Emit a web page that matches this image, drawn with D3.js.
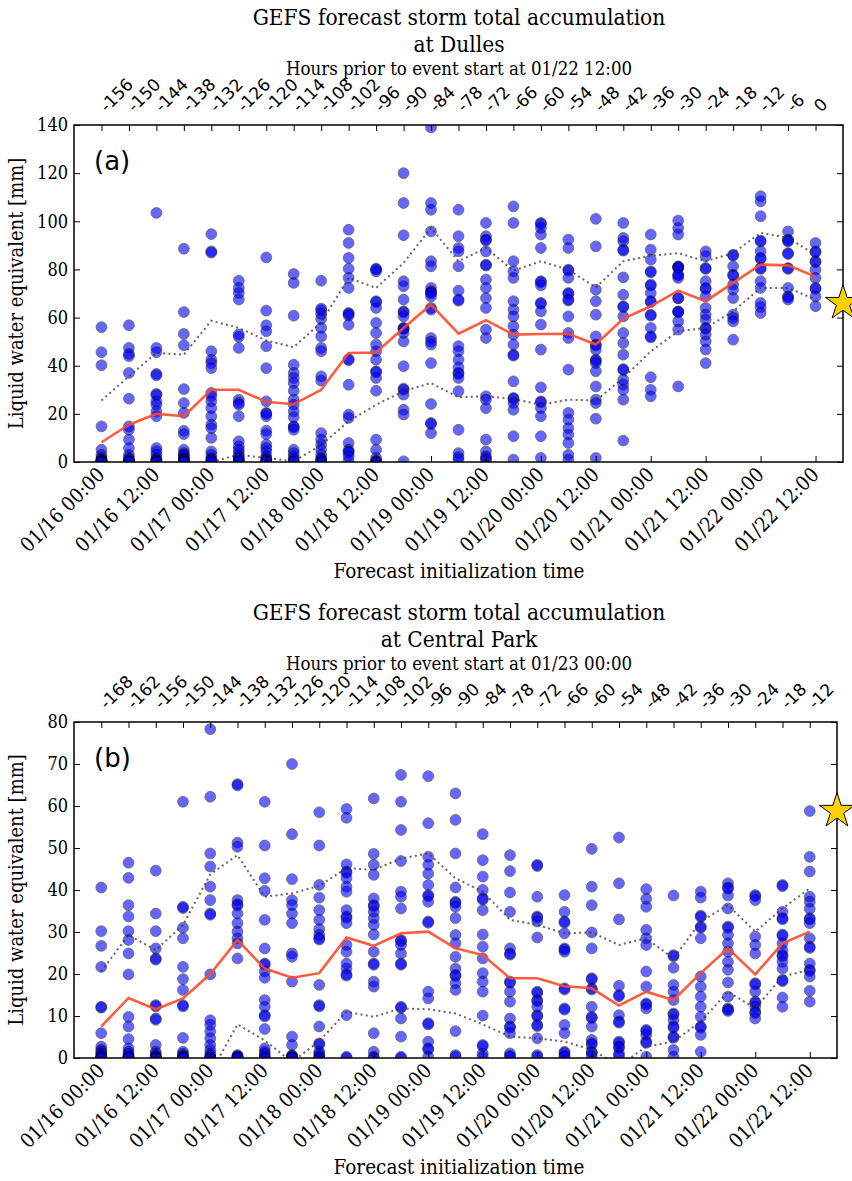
<!DOCTYPE html>
<html>
<head>
<meta charset="utf-8">
<script src="https://d3js.org/d3.v7.min.js"></script>
<style>
  body { margin: 0; background: #fff; }
  .serif { font-family: "DejaVu Serif", serif; font-stretch: condensed; }
  .sans { font-family: "DejaVu Sans", sans-serif; }
</style>
</head>
<body>
<div id="chart"></div>
<script>
// forecast init times, hours after 01/16 00:00 (every 6 h)
const initHours = d3.range(0, 157, 6);
const dateLabels = ['01/16 00:00', '01/16 12:00', '01/17 00:00', '01/17 12:00', '01/18 00:00',
  '01/18 12:00', '01/19 00:00', '01/19 12:00', '01/20 00:00', '01/20 12:00', '01/21 00:00',
  '01/21 12:00', '01/22 00:00', '01/22 12:00'];
const leadA = [-156, -150, -144, -138, -132, -126, -120, -114, -108, -102, -96, -90, -84, -78,
  -72, -66, -60, -54, -48, -42, -36, -30, -24, -18, -12, -6, 0];
const leadB = [-168, -162, -156, -150, -144, -138, -132, -126, -120, -114, -108, -102, -96, -90,
  -84, -78, -72, -66, -60, -54, -48, -42, -36, -30, -24, -18, -12];

// Dulles: ensemble members per init time [mm]
const membersA = [
  [56, 45.6, 40.2, 14.8, 5.1, 3, 1.7, 1, 0.8, 0.5, 0.3, 0.2, 0, 0, 0, 0, 0, 0, 0, 0, 0],
  [56.8, 47.4, 44.9, 44, 37, 26.3, 14.8, 13.4, 9.3, 5.8, 3, 1.7, 1, 0.6, 0.3, 0, 0, 0, 0, 0, 0],
  [103.5, 47.4, 45.6, 36.6, 36, 28.3, 27.8, 25.2, 23.8, 21, 19, 5.8, 4.4, 3, 1.5, 1, 0.5, 0.2, 0, 0, 0],
  [88.6, 62.3, 53.2, 48.5, 30.3, 24.5, 20.4, 13, 11.6, 5.1, 3.7, 3, 2.4, 1.5, 1, 0.8, 0.5, 0.2, 0, 0, 0],
  [94.7, 87.5, 87, 46, 42.5, 41.1, 39, 28.7, 27.3, 25.2, 22.4, 19, 15.5, 14.1, 10, 4.4, 3, 1.5, 1, 0.5, 0],
  [75.3, 72.3, 70.2, 67.5, 53, 52, 47.4, 25.9, 24.5, 23.8, 19, 8.6, 6.5, 5.1, 3.7, 2.4, 1.5, 1, 0.5, 0.2, 0],
  [85, 62.9, 56.8, 54.3, 48.1, 39, 25.2, 20.4, 20, 19, 13, 11.6, 7.2, 5.8, 4.4, 2.4, 1.5, 1, 0.5, 0.2, 0],
  [78.1, 74.4, 60.8, 40.4, 37, 34.9, 32.8, 29.6, 25.9, 23.8, 21, 18.6, 14.8, 14.5, 13.4, 5.1, 3.7, 2.4, 1.2, 0.5, 0],
  [75.3, 63.7, 63, 61.5, 59.4, 55.7, 52.2, 47.4, 46, 35.6, 33.8, 12, 9.3, 7.2, 5.1, 3, 1.5, 1, 0.5, 0, 0],
  [96.5, 91, 84.8, 80.3, 76.5, 72.3, 61.9, 61.5, 60.8, 57, 42.7, 42.3, 32.1, 19.7, 18.3, 7.9, 5.1, 4.2, 4, 2.4, 0.5],
  [80.3, 80, 79.2, 66.8, 66.4, 64, 57.8, 53.6, 48.8, 46, 42.5, 37.7, 37.3, 34.9, 29.6, 9.3, 5.1, 1.7, 0.5, 0.2, 0],
  [120, 107.6, 94.2, 75.1, 73, 67.5, 62.6, 62.2, 60.5, 55.7, 55.2, 55.5, 53.6, 50.1, 39.8, 30.5, 30, 28, 21.7, 19.7, 0.3],
  [139, 107.6, 104.8, 95.8, 83.4, 81.3, 72.3, 70.9, 70.5, 70, 68.8, 64, 63.3, 51.5, 50, 48.8, 41.1, 24.1, 16.2, 15.8, 12],
  [104.8, 93.8, 88.9, 87.5, 81.3, 71.2, 67.5, 67, 48.1, 46, 42.5, 39.3, 37, 36.6, 34.9, 29.4, 13.4, 3.7, 2, 1],
  [99.3, 93.8, 92.4, 92, 87.5, 82, 81.6, 75.8, 72.3, 68.1, 64, 55, 51.5, 27.3, 25.9, 22.4, 9.3, 4.4, 2.4, 1.5, 0.8],
  [106.2, 99.3, 83.4, 79.2, 76.5, 66.8, 63.3, 60.5, 56.4, 52.9, 48.8, 44.6, 44.2, 33.5, 26.6, 26.2, 24.5, 21.7, 10.7, 1],
  [99.3, 98.9, 97.2, 94.5, 88.9, 75.1, 74.7, 73.4, 66.1, 65.7, 62.6, 57.1, 46.7, 31, 25.2, 24.8, 22.4, 19, 10.7, 1.7],
  [92.4, 88.9, 79.9, 79.5, 76.5, 70.2, 69.8, 67.5, 67.1, 60.5, 53.6, 51.5, 38.4, 20.4, 17.6, 14.1, 11.4, 7.9, 3, 1],
  [101, 89.6, 71.6, 66.8, 61.2, 52.2, 48.8, 48.4, 46.7, 42.5, 42.1, 41.1, 37.7, 31.4, 25.9, 24.5, 18, 1.7],
  [99.3, 93.1, 91.7, 88.2, 87.8, 76.7, 69.5, 64.7, 64.3, 60.5, 53.6, 49.4, 44.6, 38.6, 38.2, 34.2, 32.1, 30, 25.9, 8.9],
  [94.5, 88.2, 84.1, 79.2, 78.8, 73.7, 73.3, 70.2, 66.8, 66.4, 61.2, 60.8, 55.7, 52.2, 51.8, 35.2, 30, 27.3],
  [100.3, 97.2, 94.5, 81.3, 81, 80.9, 80.5, 77.8, 77.5, 76.5, 68.1, 68, 62.6, 62.4, 62.2, 58.4, 55, 31.4],
  [87.5, 85.5, 80.6, 80.2, 75.1, 72.3, 71.9, 68.8, 64, 61.2, 59.1, 55.7, 55.3, 52.9, 50.1, 46.7, 41.1],
  [86.1, 85.7, 81.3, 77.8, 77.4, 73.7, 71.6, 68.1, 61.2, 59.8, 58.4, 50.8],
  [110.4, 108.3, 102.1, 92, 91.6, 87.5, 84.8, 84.4, 80.6, 80.2, 75.1, 72.3, 66.1, 64.3, 61.9],
  [95.8, 92.4, 92, 91.6, 86.8, 86.4, 80.6, 80.2, 72.3, 68.8, 68.4, 67.5],
  [91, 87.5, 87.1, 83.4, 83, 79.9, 76.5, 72.3, 71.9, 68.8, 64.7]
];
const meanA = [8.2, 15.5, 20, 19, 30, 30, 25, 24, 30, 45.3, 45.5, 55.7, 65.4, 53.3, 58.9, 52.9,
  53.2, 53.3, 48.8, 59.6, 64.7, 71.2, 66.8, 74.4, 82, 81.7, 77];
const upperA = [25.5, 35.6, 45.3, 44.6, 58.7, 55.7, 50.5, 47.7, 58, 76.5, 72.3, 82.7, 97.2, 83.4,
  88.9, 79.5, 83.4, 79.9, 72.5, 83.4, 85.7, 86.8, 83.4, 86.8, 95.2, 93.1, 86.1];
const lowerA = [-9, -4.6, -5.3, -6.6, 0, 3, 1.7, 0.3, 7, 16.9, 23.8, 29.4, 32.8, 26.9, 27.3, 26.2,
  23.8, 25.9, 25.5, 34.9, 46, 54.3, 55.7, 62.6, 72.3, 72.3, 67.5];
const observedA = 66;

// Central Park: ensemble members per init time [mm]
const membersB = [
  [40.6, 30.2, 26.7, 21.7, 12.2, 12, 5.9, 2.7, 1.9, 1.5, 1, 0.6, 0.3, 0, 0, 0, 0, 0, 0, 0, 0],
  [46.5, 42.9, 36.4, 33.7, 30.2, 28.1, 24.9, 19.9, 9.8, 7.5, 4.5, 2.3, 1.5, 1, 0.5, 0.2, 0, 0, 0, 0, 0],
  [44.6, 34.4, 30.2, 26.1, 23.7, 23.4, 12.6, 12.3, 9.4, 9.1, 3.1, 1.5, 1, 0.5, 0.2, 0, 0, 0, 0, 0, 0],
  [61, 36, 35.7, 31, 28.5, 21.7, 18.8, 16.2, 12.6, 12.3, 4.8, 1.5, 1, 0.5, 0.3, 0, 0, 0, 0, 0, 0],
  [78.3, 62.2, 48.7, 45.6, 40.8, 37.6, 34.4, 34.1, 19.9, 9, 7.9, 6.3, 4.7, 3.1, 1.9, 1, 0.5, 0, 0, 0, 0],
  [65.2, 64.9, 51.3, 50.3, 37.6, 36.6, 36.3, 34.4, 32.1, 30.1, 28.5, 27.3, 23.7, 0.7, 0.5, 0.3, 0, 0, 0, 0, 0],
  [61, 50.6, 42.8, 39.8, 32.9, 26.1, 22.5, 22.2, 20.6, 19.1, 13.8, 12.2, 10.2, 9.9, 6.9, 2.3, 1.5, 1, 0.5, 0, 0],
  [70, 53.3, 42.6, 37.6, 36.4, 34.4, 32.1, 24.9, 24.1, 18.2, 5.1, 3.1, 0.7, 0.5, 0.3, 0, 0, 0, 0, 0, 0],
  [58.5, 50.6, 41.2, 38.2, 35.2, 32.9, 30.7, 29.3, 28.5, 28.2, 17.4, 12.6, 12.3, 7.5, 3.5, 3.2, 1.5, 1, 0.5, 0, 0],
  [59.3, 57.2, 46.1, 44.4, 44.1, 42.8, 40.8, 39.6, 35.2, 33.7, 33.4, 32.1, 26.9, 25.3, 22.5, 21.3, 19.9, 19.6, 10.2, 0.3, 0],
  [61.8, 48.6, 46, 43.6, 38, 36.4, 36.1, 34.8, 33.3, 31.7, 29.4, 25.3, 22.5, 22.2, 18.2, 17, 5.9, 1.5, 0.3, 0],
  [67.4, 61, 54.3, 46.9, 39.6, 38.4, 35.6, 28.1, 27.8, 26.9, 24.9, 22.5, 22.2, 12.2, 11.9, 9.4, 5.1, 0.3, 0],
  [67.1, 55.9, 47.9, 46, 43.9, 41.2, 38.8, 38.5, 37.2, 32.5, 32.2, 15.8, 14.2, 8.3, 8, 3.9, 2.3, 2, 0.3],
  [63, 56.7, 48.7, 40.6, 37.2, 36.9, 36, 33.3, 29.3, 27.3, 24.1, 21.3, 19.8, 19.5, 17.8, 16.2, 6.4, 0.7, 0.3],
  [53.3, 47.1, 43.2, 40, 38, 37.7, 35.2, 29.4, 26.5, 23.7, 20.2, 18.2, 15.8, 10.1, 3.1, 2.8, 1.1, 0.3],
  [48.3, 44.5, 39.4, 34.8, 26.1, 24.9, 24.6, 18.2, 17.9, 15.8, 13.4, 9.4, 7.5, 7.2, 5.9, 1.1, 0.5, 0.2],
  [46, 45.7, 38.4, 33.7, 33.4, 32.5, 28.7, 15.8, 15.5, 13.8, 13.5, 12.2, 10.2, 9.9, 7.9, 7.6, 4.7, 0.7, 0.3],
  [38.8, 34.8, 32.5, 32.2, 29.7, 26.1, 25.8, 25.3, 16.6, 16.3, 11.8, 11.5, 7.9, 5.9, 1.5, 1.2, 0.5, 0.2],
  [49.8, 40.8, 36.4, 29.9, 26.1, 19, 18.7, 16.6, 16.3, 12.2, 9.8, 9.5, 7.5, 4.3, 3.5, 3.2, 1.5, 1.2, 0.5],
  [52.5, 41.6, 33, 17.2, 15, 14.7, 10.2, 8.7, 8.4, 3.9, 3.6, 2.7, 2.4, 1.1, 0.5],
  [40.2, 37.9, 36, 30.5, 28.5, 26.9, 20.6, 17, 13, 12.7, 11.8, 6.7, 6.4, 5.5, 3.9, 3.6, 0.3],
  [38.7, 24.5, 24.2, 21.5, 17.4, 15.8, 13.8, 10.6, 10.3, 9, 7.5, 7.2, 5.1, 4.8, 1.9, 0.3],
  [39.6, 38.2, 33.9, 33.6, 31.3, 31, 28.5, 19.4, 17, 14.6, 12.2, 9.8, 7.5, 7.2, 5.5, 1.5],
  [41.6, 40.6, 40.3, 38.7, 35.6, 31.3, 31, 29.3, 27.3, 25.3, 22.9, 21, 18, 14.6, 11.8, 11.5, 11.2],
  [38.8, 38.5, 37.6, 28.9, 26.9, 24.9, 17.8, 17.5, 15.8, 13.4, 13.1, 12.2, 11, 10.7, 9.4],
  [41.2, 40.9, 34.8, 33.3, 33, 29.4, 29.1, 27.3, 25.7, 24.5, 24.2, 22.9, 21.3, 18.6, 18.3, 14.4, 12.2],
  [58.8, 47.9, 44.4, 38.4, 37.2, 35.5, 33.3, 33, 32.1, 28.5, 26.5, 26.2, 22.5, 21, 20.7, 19.4, 16, 13.4]
];
const meanB = [7.5, 14.3, 11.6, 14.2, 20, 28.1, 21.3, 19.1, 20.2, 28.7, 26.7, 29.7, 30.1, 26.1,
  24.5, 19, 19, 17.1, 16.6, 12.5, 15.8, 13.8, 20.2, 26.1, 19.9, 27.3, 30.1];
const upperB = [20.6, 29.3, 25.7, 31.7, 43.7, 48.3, 38.4, 39.2, 41, 45.2, 44.8, 47.5, 48.7, 42.8,
  39.6, 32.9, 31.7, 29.7, 29.9, 26.9, 28.5, 23.7, 32.5, 36.4, 30.1, 35.6, 40.4];
const lowerB = [-5.6, -0.7, -2.5, -3.3, -3.7, 8, 4.2, -1, 4, 11, 9.8, 11.8, 11.6, 10.6, 8, 5.1,
  4.7, 3.9, 2, -1.9, 2.7, 3.9, 8.7, 15.8, 11.8, 19.4, 21];
const observedB = 58.8;

const panels = [
  {id: 'a', site: 'Dulles', event: '01/22 12:00', members: membersA, mean: meanA, upper: upperA,
   lower: lowerA, lead: leadA, obs: observedA, yMax: 140, yStep: 20,
   top: 125, bottom: 462, right: 843, titleY: 25},
  {id: 'b', site: 'Central Park', event: '01/23 00:00', members: membersB, mean: meanB, upper: upperB,
   lower: lowerB, lead: leadB, obs: observedB, yMax: 80, yStep: 10,
   top: 722, bottom: 1058, right: 837, titleY: 620}
];

const svg = d3.select('#chart').append('svg')
  .attr('width', 852)
  .attr('height', 1181)
  .style('background', '#fff');

const left = 74;

panels.forEach(p => {
  const x = d3.scaleLinear().domain([-6, 162]).range([left, p.right]);
  const y = d3.scaleLinear().domain([0, p.yMax]).range([p.bottom, p.top]);
  const g = svg.append('g');
  const cx = 459;

  // titles
  g.append('text').attr('class', 'serif')
    .attr('x', cx).attr('y', p.titleY)
    .attr('text-anchor', 'middle').style('font-size', '22.5px')
    .text('GEFS forecast storm total accumulation');
  g.append('text').attr('class', 'serif')
    .attr('x', cx).attr('y', p.titleY + 26.5)
    .attr('text-anchor', 'middle').style('font-size', '22.5px')
    .text('at ' + p.site);
  g.append('text').attr('class', 'serif')
    .attr('x', cx).attr('y', p.titleY + 50)
    .attr('text-anchor', 'middle').style('font-size', '18.5px')
    .text('Hours prior to event start at ' + p.event);

  // clip to the axes box
  const clipId = 'clip-' + p.id;
  svg.append('clipPath').attr('id', clipId)
    .append('rect')
    .attr('x', left).attr('y', p.top)
    .attr('width', p.right - left).attr('height', p.bottom - p.top);

  const plot = g.append('g').attr('clip-path', `url(#${clipId})`);

  // ensemble members
  const pts = [];
  p.members.forEach((col, i) => col.forEach(v => pts.push({h: initHours[i], v: v})));
  plot.selectAll('circle')
    .data(pts)
    .enter()
    .append('circle')
    .attr('cx', d => x(d.h))
    .attr('cy', d => y(d.v))
    .attr('r', 5.4)
    .style('fill', 'blue')
    .style('stroke', '#000')
    .style('stroke-width', 0.8)
    .style('opacity', 0.6);

  const line = d3.line().x((d, i) => x(initHours[i])).y(d => y(d));

  [p.upper, p.lower].forEach(arr => {
    plot.append('path')
      .attr('d', line(arr))
      .style('fill', 'none')
      .style('stroke', '#333')
      .style('stroke-width', 2)
      .style('stroke-dasharray', '2,3.3')
      .style('opacity', 0.75);
  });

  plot.append('path')
    .attr('d', line(p.mean))
    .style('fill', 'none')
    .style('stroke', '#ff4a2a')
    .style('stroke-width', 2.6)
    .style('opacity', 0.9);

  // axes (ticks pointing inward)
  const yAxis = g.append('g')
    .attr('transform', `translate(${left},0)`)
    .call(d3.axisLeft(y).tickValues(d3.range(0, p.yMax + 1, p.yStep)).tickSizeInner(-6).tickSizeOuter(0).tickPadding(6));
  yAxis.selectAll('text').attr('class', 'serif').style('font-size', '18px').attr('fill', '#000');

  g.append('g')
    .attr('transform', `translate(${p.right},0)`)
    .call(d3.axisRight(y).tickValues(d3.range(0, p.yMax + 1, p.yStep)).tickSizeInner(-6).tickSizeOuter(0).tickFormat(''));

  const xAxis = g.append('g')
    .attr('transform', `translate(0,${p.bottom})`)
    .call(d3.axisBottom(x).tickValues(initHours.filter((h, i) => i % 2 === 0))
      .tickSizeInner(-6).tickSizeOuter(0).tickFormat((d, i) => dateLabels[i]));
  xAxis.selectAll('text')
    .attr('class', 'serif')
    .style('font-size', '20px')
    .attr('fill', '#000')
    .attr('text-anchor', 'end')
    .attr('x', 0).attr('y', 0).attr('dy', 0)
    .attr('transform', 'translate(4,14) rotate(-45)');

  const topAxis = g.append('g')
    .attr('transform', `translate(0,${p.top})`)
    .call(d3.axisTop(x).tickValues(initHours).tickSizeInner(-6).tickSizeOuter(0)
      .tickFormat((d, i) => p.lead[i]));
  topAxis.selectAll('text')
    .attr('class', 'sans')
    .style('font-size', '17px')
    .attr('fill', '#000')
    .attr('text-anchor', 'start')
    .attr('x', 0).attr('y', 0).attr('dy', 0)
    .attr('transform', 'translate(5,-12) rotate(-45)');

  g.selectAll('.domain').remove();
  g.selectAll('.tick line').style('stroke', '#000').style('stroke-width', 1);

  // frame
  g.append('rect')
    .attr('x', left).attr('y', p.top)
    .attr('width', p.right - left).attr('height', p.bottom - p.top)
    .style('fill', 'none').style('stroke', '#000').style('stroke-width', 1.5);

  // panel letter
  g.append('text').attr('class', 'sans')
    .attr('x', 94).attr('y', p.top + 45)
    .style('font-size', '26px')
    .text('(' + p.id + ')');

  // axis titles
  g.append('text').attr('class', 'serif')
    .attr('transform', `translate(23,${(p.top + p.bottom) / 2}) rotate(-90)`)
    .attr('text-anchor', 'middle').style('font-size', '20px')
    .text('Liquid water equivalent [mm]');
  g.append('text').attr('class', 'serif')
    .attr('x', cx).attr('y', p.bottom + 116)
    .attr('text-anchor', 'middle').style('font-size', '20.5px')
    .text('Forecast initialization time');

  // observed total
  g.append('path')
    .attr('d', d3.symbol(d3.symbolStar).size(380)())
    .attr('transform', `translate(${x(162)},${y(p.obs)})`)
    .style('fill', '#ffd000')
    .style('stroke', '#000')
    .style('stroke-width', 1);
});
</script>
</body>
</html>
